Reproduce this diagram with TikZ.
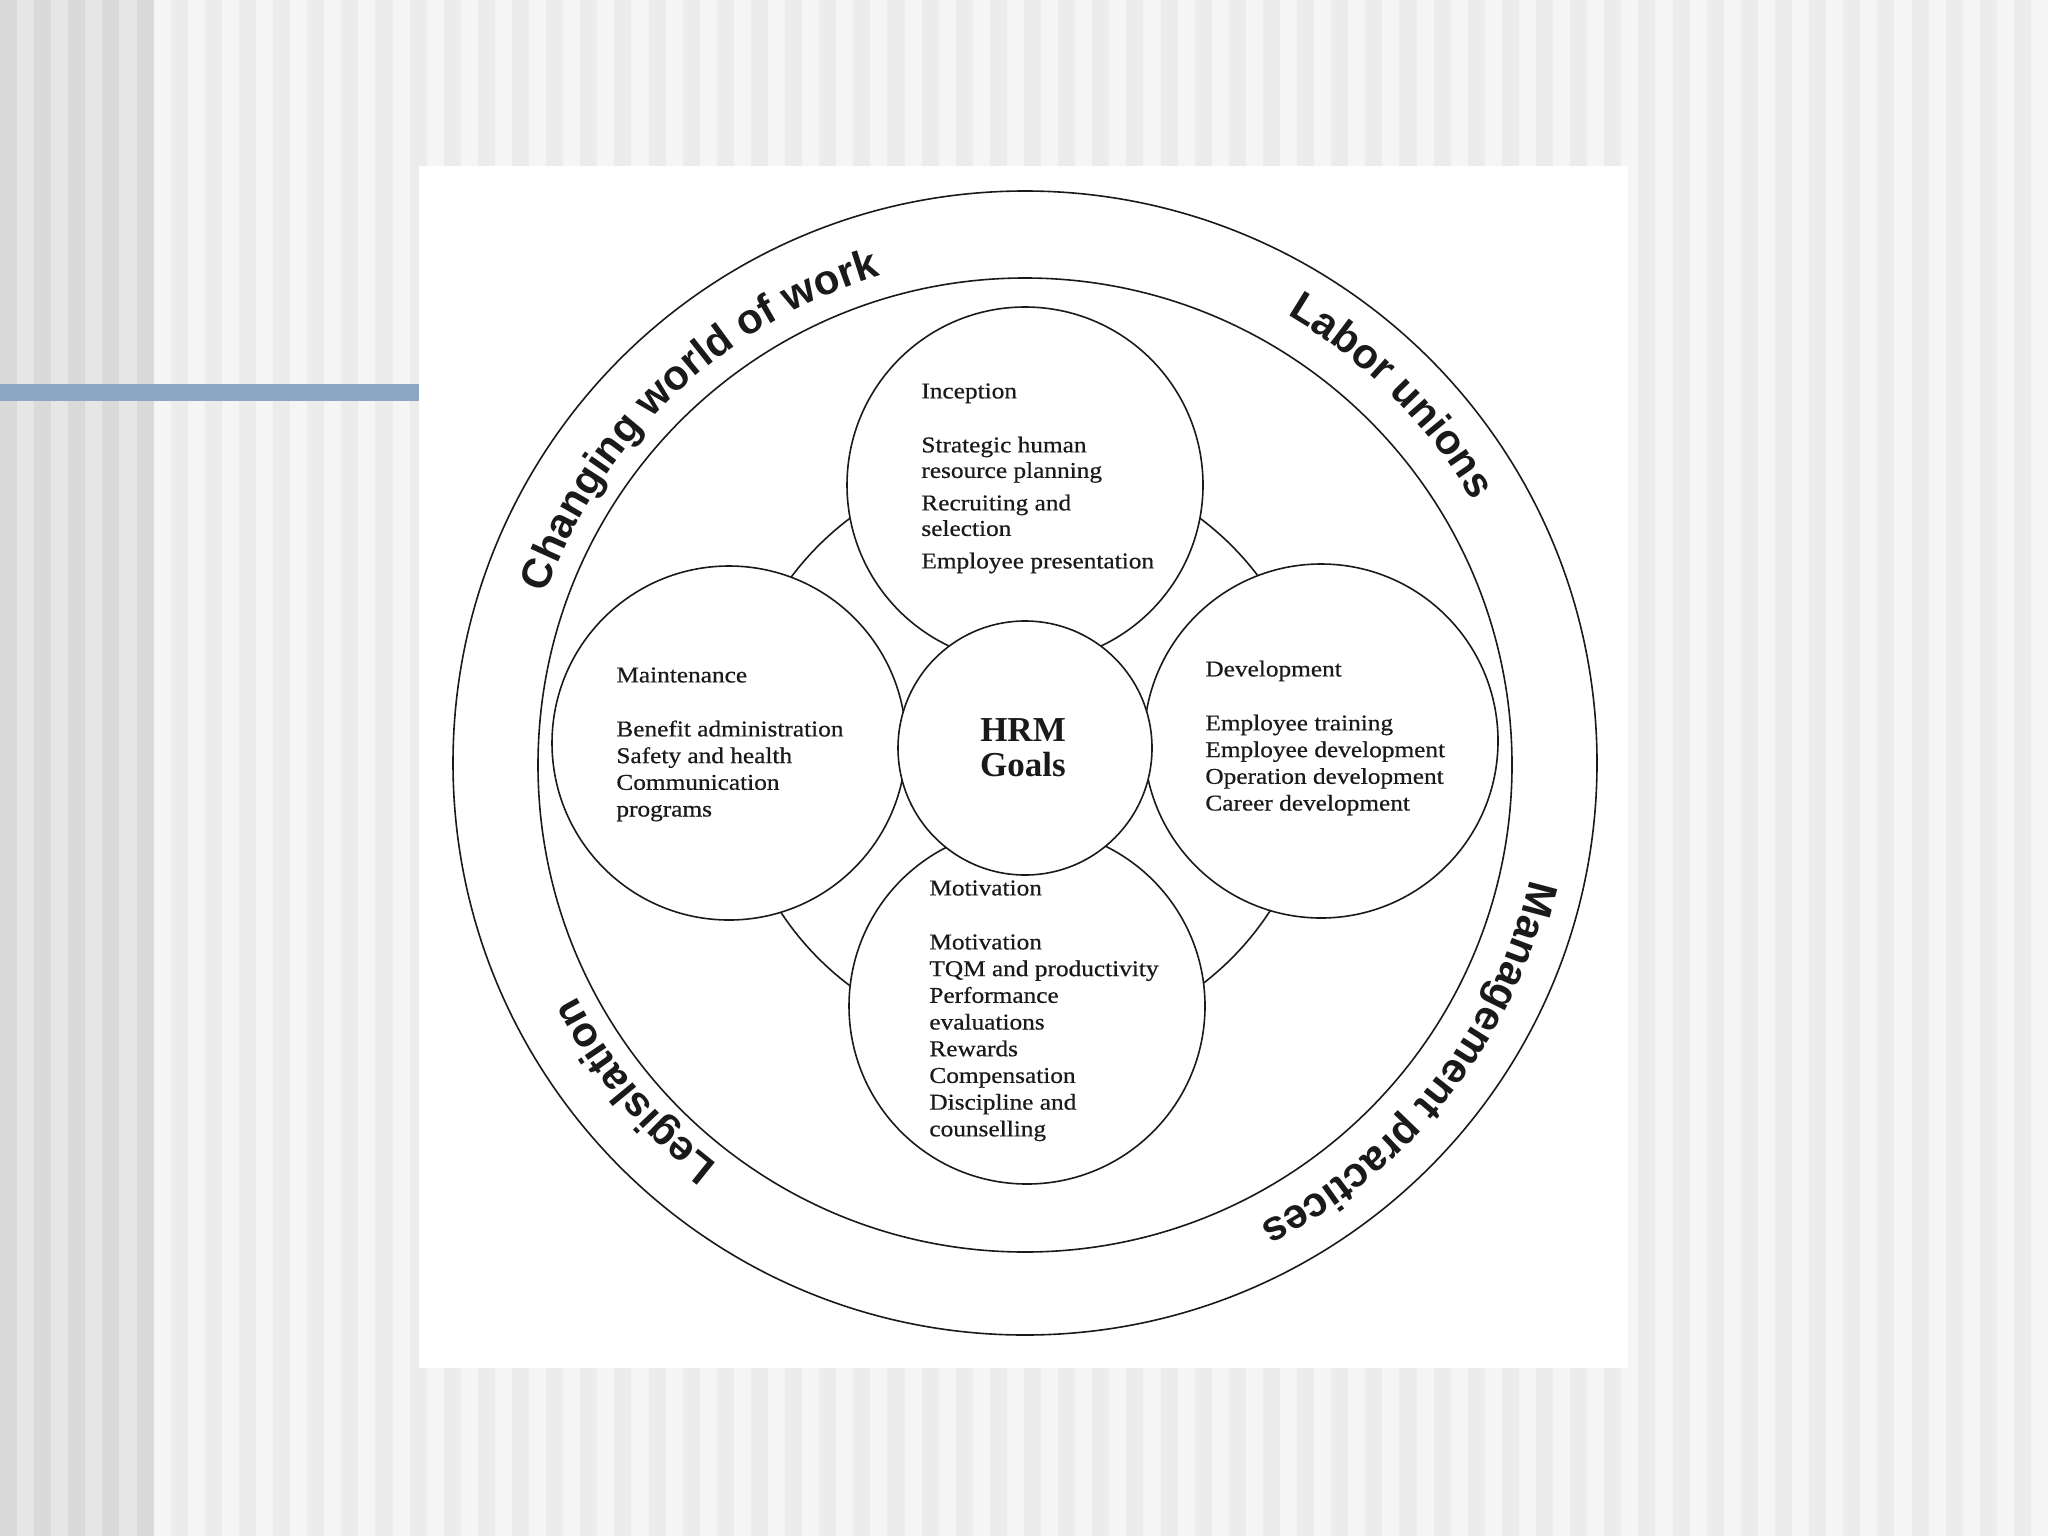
\documentclass[tikz,border=0pt]{standalone}
\usepackage{fontspec}
\setmainfont{Liberation Serif}
\setsansfont{Liberation Sans}
\newfontfamily\bodyfont[FakeStretch=1.12,FakeBold=0.6]{Liberation Serif}
\usetikzlibrary{decorations.text}
\definecolor{bgL}{HTML}{E6E6E6}
\definecolor{stripeL}{HTML}{DADADA}
\definecolor{bgR}{HTML}{F5F5F5}
\definecolor{stripeR}{HTML}{ECECEC}
\definecolor{barblue}{HTML}{8CA6C3}
\definecolor{ink}{HTML}{1A1A1A}
\begin{document}
\begin{tikzpicture}[x=0.5pt,y=-0.5pt,
  ring/.style={circle, draw=ink, line width=0.8pt, inner sep=0pt, outer sep=0pt},
  disc/.style={ring, fill=white},
  body/.style={anchor=north west, align=left, inner sep=0pt, text=ink,
    font=\bodyfont\fontsize{11.3}{13.35}\selectfont},
  curved/.style={decorate, decoration={text along path, text align=center,
    text={|\sffamily\bfseries\fontsize{21}{25}\selectfont\color{ink}|#1}}}
]
\useasboundingbox (0,0) rectangle (2048,1536);
% background stripes
\fill[bgR] (0,0) rectangle (2048,1536);
\foreach \i in {0,2,...,118} {
  \fill[stripeR] ({\i*17.0667},0) rectangle ({(\i+1)*17.0667},1536);
}
\fill[bgL] (0,0) rectangle (153.6,1536);
\foreach \i in {0,2,...,8} {
  \fill[stripeL] ({\i*17.0667},0) rectangle ({(\i+1)*17.0667},1536);
}
% blue bar
\fill[barblue] (0,384) rectangle (419,401);
% white panel
\fill[white] (419,166) rectangle (1628,1368);

% circles
\node[ring, minimum size=572pt] (outer) at (1025,763) {};
\node[ring, minimum size=487pt] (inner) at (1025,765) {};
\node[ring, minimum size=292pt] (link) at (1025,752) {};
\node[disc, minimum size=178pt] (inception) at (1025,485) {};
\node[disc, minimum size=177pt] (maintenance) at (729,743) {};
\node[disc, minimum size=177pt] (development) at (1321,741) {};
\node[disc, minimum size=178pt] (motivation) at (1027,1006) {};
\node[disc, minimum size=127pt] (hrm) at (1025,748) {};

% texts
\node[body, font=\bodyfont\fontsize{11.3}{12.75}\selectfont] (incT) at (921,382)
  {\rule{0pt}{8pt}Inception\\[14.25pt]
   Strategic human\\ resource planning\\[3.5pt]
   Recruiting and\\ selection\\[3.5pt]
   Employee presentation};
\node[body] (mainT) at (616,666)
  {\rule{0pt}{8pt}Maintenance\\[13.65pt]
   Benefit administration\\ Safety and health\\ Communication\\ programs};
\node[body] (devT) at (1205,660)
  {\rule{0pt}{8pt}Development\\[13.65pt]
   Employee training\\ Employee development\\ Operation development\\ Career development};
\node[body] (motT) at (929,879)
  {\rule{0pt}{8pt}Motivation\\[13.65pt]
   Motivation\\ TQM and productivity\\ Performance\\ evaluations\\ Rewards\\
   Compensation\\ Discipline and\\ counselling};
\node[align=center, inner sep=0pt, text=ink, font=\bfseries\fontsize{17.5}{17.5}\selectfont]
  (hrmT) at (1023,748) {HRM\\Goals};

% curved outer labels
\path[curved={Changing world of work}]
  ([shift={(170:254pt)}]outer.center) arc[start angle=170, end angle=97, radius=254pt];
\path[curved={Labor unions}]
  ([shift={(75:259.5pt)}]outer.center) arc[start angle=75, end angle=15, radius=259.5pt];
\path[curved={Management practices}]
  ([shift={(-8:259pt)}]outer.center) arc[start angle=-8, end angle=-68, radius=259pt];
\path[curved={Legislation}]
  ([shift={(250:253pt)}]outer.center) arc[start angle=250, end angle=190, radius=253pt];
\end{tikzpicture}
\end{document}
